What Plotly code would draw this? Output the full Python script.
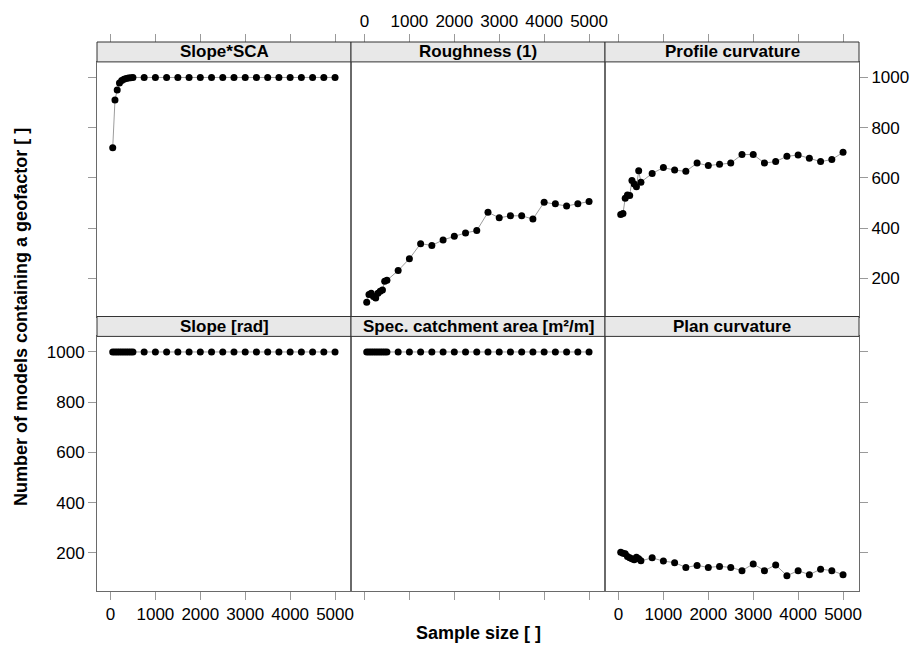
import plotly.graph_objects as go

# ---------------- data ----------------
sample_size = [50, 100, 150, 200, 250, 300, 350, 400, 450, 500,
               750, 1000, 1250, 1500, 1750, 2000, 2250, 2500, 2750,
               3000, 3250, 3500, 3750, 4000, 4250, 4500, 4750, 5000]

slope_sca = [720, 910, 950, 978, 988, 993, 996, 998, 999, 1000,
             1000, 1000, 1000, 1000, 1000, 1000, 1000, 1000, 1000,
             1000, 1000, 1000, 1000, 1000, 1000, 1000, 1000, 1000]
roughness = [105, 136, 141, 128, 122, 141, 149, 154, 188, 192,
             231, 278, 338, 331, 353, 368, 381, 390, 463,
             441, 449, 449, 436, 503, 497, 488, 497, 506]
profile_curv = [454, 458, 519, 532, 530, 590, 576, 565, 628, 583,
                618, 641, 631, 626, 659, 649, 654, 659, 693,
                693, 659, 665, 686, 691, 678, 665, 673, 702]
slope_rad = [1000, 1000, 1000, 1000, 1000, 1000, 1000, 1000, 1000, 1000,
             1000, 1000, 1000, 1000, 1000, 1000, 1000, 1000, 1000,
             1000, 1000, 1000, 1000, 1000, 1000, 1000, 1000, 1000]
spec_catch = [1000, 1000, 1000, 1000, 1000, 1000, 1000, 1000, 1000, 1000,
              1000, 1000, 1000, 1000, 1000, 1000, 1000, 1000, 1000,
              1000, 1000, 1000, 1000, 1000, 1000, 1000, 1000, 1000]
plan_curv = [202, 198, 196, 185, 180, 176, 172, 182, 176, 168,
             180, 167, 161, 142, 150, 142, 146, 142, 129,
             156, 129, 152, 109, 129, 113, 135, 129, 113]

panel_titles = ["Slope*SCA", "Roughness (1)", "Profile curvature",
                "Slope [rad]", "Spec. catchment area [m²/m]", "Plan curvature"]
panel_values = [slope_sca, roughness, profile_curv, slope_rad, spec_catch, plan_curv]

x_ticks = [0, 1000, 2000, 3000, 4000, 5000]
y_ticks = [200, 400, 600, 800, 1000]
x_range = [-300, 5355]
y_range = [48, 1062]

x_title = "Sample size [ ]"
y_title = "Number of models containing a geofactor [ ]"

# ---------------- layout geometry ----------------
W, H = 921, 646
ml, mr, mt, mb = 97, 58, 39, 55
plot_w = W - ml - mr
plot_h = H - mt - mb
strip_h = 20
panel_h = (plot_h - 2 * strip_h) / 2

FONT = "Liberation Sans, Arial, Helvetica, sans-serif"
TICKCOL = "#9a9a9a"
BORDER = "#6a6a6a"

row_dom = {
    1: [(panel_h + strip_h) / plot_h, (2 * panel_h + strip_h) / plot_h],
    2: [0, panel_h / plot_h],
}
strip_dom = {
    1: [(2 * panel_h + strip_h) / plot_h, 1.0],
    2: [panel_h / plot_h, (panel_h + strip_h) / plot_h],
}

fig = go.Figure()
layout = {}
shapes = []
annotations = []

for i, (title, vals) in enumerate(zip(panel_titles, panel_values)):
    row = i // 3 + 1
    col = i % 3
    k = i + 1
    xa = "x" if k == 1 else f"x{k}"
    ya = "y" if k == 1 else f"y{k}"
    fig.add_trace(go.Scatter(
        x=sample_size, y=vals, xaxis=xa, yaxis=ya, mode="lines+markers",
        line=dict(color="#9c9c9c", width=1),
        marker=dict(color="black", size=7),
        showlegend=False, hoverinfo="x+y"))

    xd = [col / 3, (col + 1) / 3]
    xaxis = dict(domain=xd, range=x_range, anchor=ya, showgrid=False, zeroline=False,
                 showline=True, mirror=True, linecolor=BORDER, linewidth=1,
                 tickvals=x_ticks, tickfont=dict(family=FONT, size=17, color="black"))
    if row == 2:
        xaxis.update(ticks="outside", ticklen=8, tickcolor=TICKCOL, side="bottom",
                     showticklabels=(col != 1))
    else:
        xaxis.update(ticks="", showticklabels=False)

    yaxis = dict(domain=row_dom[row], range=y_range, anchor=xa, showgrid=False,
                 zeroline=False, showline=True, mirror=True, linecolor=BORDER,
                 linewidth=1, tickvals=y_ticks,
                 tickfont=dict(family=FONT, size=17, color="black"))
    if col == 0:
        yaxis.update(side="left", ticks="outside", ticklen=8, tickcolor=TICKCOL,
                     showticklabels=(row == 2))
    elif col == 2:
        yaxis.update(side="right", ticks="outside", ticklen=8, tickcolor=TICKCOL,
                     showticklabels=(row == 1))
    else:
        yaxis.update(ticks="", showticklabels=False)

    layout["xaxis" if k == 1 else f"xaxis{k}"] = xaxis
    layout["yaxis" if k == 1 else f"yaxis{k}"] = yaxis

    # strip
    sd = strip_dom[row]
    shapes.append(dict(type="rect", xref="paper", yref="paper", x0=xd[0], x1=xd[1],
                       y0=sd[0], y1=sd[1], fillcolor="#e8e8e8",
                       line=dict(color="#333333", width=1), layer="above"))
    annotations.append(dict(text=f"<b>{title}</b>", xref="paper", yref="paper",
                            x=(xd[0] + xd[1]) / 2, y=(sd[0] + sd[1]) / 2,
                            xanchor="center", yanchor="middle", showarrow=False,
                            font=dict(family=FONT, size=17, color="black")))

# top tick axes (alternating lattice style)
for j, col in enumerate(range(3)):
    k = 7 + j
    base = "x" if col == 0 else f"x{col + 1}"
    basey = "y" if col == 0 else f"y{col + 1}"
    fig.add_trace(go.Scatter(x=[None], y=[None], xaxis=f"x{k}", yaxis=basey,
                             showlegend=False, hoverinfo="skip"))
    layout[f"xaxis{k}"] = dict(overlaying=base, side="top", anchor="free", position=1.0,
                               range=x_range, showgrid=False, zeroline=False,
                               showline=False, ticks="outside", ticklen=8,
                               tickcolor=TICKCOL, tickvals=x_ticks,
                               showticklabels=(col == 1),
                               tickfont=dict(family=FONT, size=17, color="black"))

annotations.append(dict(text=f"<b>{x_title}</b>", xref="paper", yref="paper",
                        x=0.5, y=-(633 - (H - mb)) / plot_h, xanchor="center",
                        yanchor="middle", showarrow=False,
                        font=dict(family=FONT, size=18, color="black")))
annotations.append(dict(text=f"<b>{y_title}</b>", xref="paper", yref="paper",
                        x=(20 - ml) / plot_w, y=0.5, xanchor="center",
                        yanchor="middle", textangle=-90, showarrow=False,
                        font=dict(family=FONT, size=18, color="black")))

fig.update_layout(width=W, height=H, margin=dict(l=ml, r=mr, t=mt, b=mb),
                  paper_bgcolor="white", plot_bgcolor="white",
                  shapes=shapes, annotations=annotations, showlegend=False,
                  font=dict(family=FONT, size=17, color="black"), **layout)

fig.write_html("out.html")
